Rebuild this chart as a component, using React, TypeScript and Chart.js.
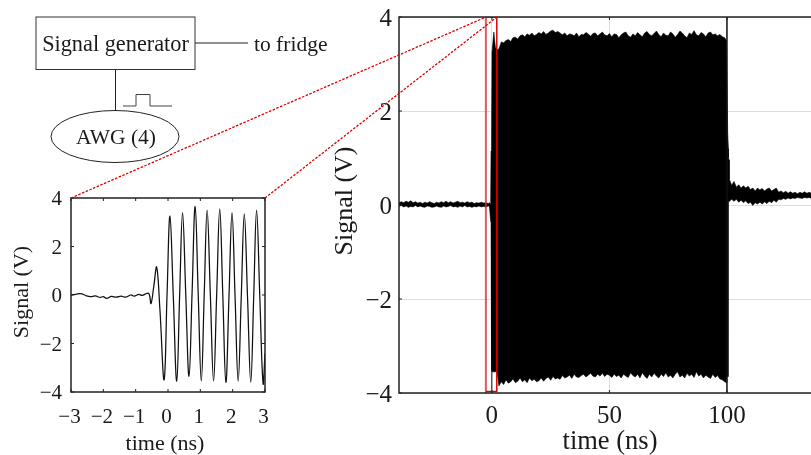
import React, { useEffect, useRef } from "react";
import { Chart, registerables } from "chart.js";

Chart.register(...registerables);

const FONT = '"Liberation Serif", "Times New Roman", serif';
const INK = "#1a1a1a";

// ---------- main panel data ----------
const mainXTicks = [0, 50, 100];
const mainYTicks = [-4, -2, 0, 2, 4];
const xTitle = "time (ns)";
const yTitle = "Signal (V)";

const preTime = [-39.5,-38.5,-37.5,-36.5,-35.5,-34.5,-33.5,-32.5,-31.5,-30.5,-29.5,-28.5,-27.5,-26.5,-25.5,-24.5,-23.5,-22.5,-21.5,-20.5,-19.5,-18.5,-17.5,-16.5,-15.5,-14.5,-13.5,-12.5,-11.5,-10.5,-9.5,-8.5,-7.5,-6.5,-5.5,-4.5,-3.5,-2.5,-1.5,-1,-0.52,-0.35,-0.12,0.06,0.84,1.5,2.2];
const preTop = [0.05,0.07,0.05,0.08,0.06,0.09,0.05,0.07,0.04,0.06,0.03,0.06,0.04,0.07,0.05,0.03,0.06,0.04,0.07,0.05,0.08,0.05,0.07,0.04,0.06,0.08,0.05,0.06,0.04,0.07,0.05,0.06,0.03,0.05,0.04,0.06,0.04,0.05,0.03,0.05,0.0,1.15,1.4,3.25,3.68,3.35,3.3];
const preBot = [-0.03,-0.01,-0.04,-0.02,-0.05,-0.03,-0.04,-0.01,-0.04,-0.02,-0.04,-0.05,-0.02,-0.03,-0.05,-0.04,-0.02,-0.04,-0.05,-0.02,-0.04,-0.03,-0.01,-0.04,-0.03,-0.05,-0.02,-0.04,-0.01,-0.04,-0.03,-0.05,-0.03,-0.04,-0.02,-0.04,-0.03,-0.04,-0.02,-0.04,-0.35,-0.35,-3.5,-3.55,-3.55,-3.55,-3.55];

const pulseTime = [3,4,5,6,7,8,9,10,11,12,13,14,15,16,17,18,19,20,21,22,23,24,25,26,27,28,29,30,31,32,33,34,35,36,37,38,39,40,41,42,43,44,45,46,47,48,49,50,51,52,53,54,55,56,57,58,59,60,61,62,63,64,65,66,67,68,69,70,71,72,73,74,75,76,77,78,79,80,81,82,83,84,85,86,87,88,89,90,91,92,93,94,95,96,97,98,99,99.8];
const pulseTop = [3.32,3.47,3.45,3.5,3.52,3.48,3.56,3.57,3.53,3.6,3.62,3.58,3.64,3.61,3.66,3.6,3.63,3.67,3.64,3.69,3.63,3.66,3.7,3.72,3.67,3.69,3.66,3.62,3.66,3.6,3.64,3.63,3.6,3.66,3.58,3.63,3.62,3.67,3.64,3.59,3.65,3.66,3.6,3.64,3.68,3.62,3.6,3.65,3.58,3.64,3.63,3.56,3.62,3.66,3.68,3.6,3.57,3.64,3.6,3.67,3.62,3.58,3.66,3.69,3.63,3.6,3.65,3.7,3.63,3.58,3.66,3.61,3.6,3.68,3.64,3.57,3.63,3.7,3.66,3.6,3.56,3.66,3.63,3.71,3.62,3.6,3.67,3.64,3.58,3.66,3.68,3.62,3.64,3.6,3.63,3.58,3.56,3.5];
const pulseBot = [-3.85,-3.76,-3.82,-3.72,-3.79,-3.76,-3.7,-3.78,-3.75,-3.68,-3.76,-3.72,-3.78,-3.68,-3.74,-3.71,-3.76,-3.74,-3.68,-3.75,-3.69,-3.66,-3.73,-3.65,-3.7,-3.68,-3.71,-3.63,-3.68,-3.66,-3.62,-3.69,-3.6,-3.66,-3.67,-3.63,-3.6,-3.66,-3.62,-3.58,-3.64,-3.66,-3.6,-3.64,-3.58,-3.65,-3.6,-3.62,-3.67,-3.6,-3.65,-3.62,-3.68,-3.6,-3.64,-3.67,-3.57,-3.63,-3.66,-3.6,-3.68,-3.57,-3.64,-3.69,-3.6,-3.66,-3.58,-3.64,-3.68,-3.6,-3.65,-3.57,-3.66,-3.62,-3.68,-3.6,-3.55,-3.66,-3.62,-3.68,-3.58,-3.64,-3.6,-3.67,-3.55,-3.64,-3.6,-3.68,-3.62,-3.66,-3.69,-3.6,-3.67,-3.63,-3.7,-3.72,-3.76,-3.78];

const postTime = [100,100.3,100.6,100.65,100.9,101,102,103,104,105,106,107,108,109,110,111,112,113,114,115,116,117,118,119,120,121,122,123,124,125,126,127,128,129,130,131,132,133,134,135,136,137,138,139,140];
const postTop = [3.5,1.55,1.2,1.0,0.96,0.55,0.42,0.5,0.38,0.43,0.36,0.41,0.36,0.4,0.33,0.36,0.3,0.36,0.32,0.35,0.3,0.34,0.36,0.3,0.33,0.36,0.27,0.3,0.26,0.29,0.25,0.28,0.25,0.27,0.24,0.27,0.25,0.28,0.25,0.27,0.25,0.27,0.25,0.26,0.25];
const postBot = [-3.65,-3.65,-3.65,0.05,0.1,0.08,0.12,0.08,0.12,0.06,0.1,0.05,0.09,0.03,0.06,-0.01,0.05,0.02,0.06,0.02,0.07,0.03,0.08,0.05,0.1,0.06,0.12,0.11,0.14,0.12,0.15,0.13,0.15,0.14,0.16,0.15,0.14,0.16,0.15,0.16,0.14,0.16,0.15,0.16,0.15];

const markTimes = [100, 100];
const markVolts = [-4, 4];
const spikeTimes = [0, 0];
const spikeVolts = [-4, -3.3];

const zoomBoxLeftT = [-2.55, -2.55];
const zoomBoxLeftV = [-4, 4];
const zoomBoxT = [-2.55, 2.1, 2.1, -2.55];
const zoomBoxV = [4, 4, -3.97, -3.97];

// ---------- inset data ----------
const insetXTicks = [-3, -2, -1, 0, 1, 2, 3];
const insetYTicks = [-4, -2, 0, 2, 4];
const insetTime = [-3,-2.85,-2.7,-2.55,-2.4,-2.25,-2.1,-2,-1.9,-1.75,-1.6,-1.45,-1.3,-1.15,-1.05,-0.9,-0.8,-0.65,-0.58,-0.525,-0.44,-0.35,-0.25,-0.12,-0.03,0.06,0.165,0.27,0.36,0.45,0.55,0.65,0.745,0.84,0.935,1.03,1.12,1.21,1.31,1.41,1.505,1.6,1.695,1.79,1.885,1.98,2.075,2.17,2.265,2.36,2.46,2.56,2.65,2.74,2.84,2.94,3];
const insetVolt = [0,0.03,0.06,-0.02,-0.07,-0.04,-0.1,-0.07,-0.14,-0.06,-0.09,-0.05,-0.09,0,-0.05,0.03,-0.02,0.07,0.03,-0.35,0.35,1.15,-0.6,-3.5,0,3.25,-0.1,-3.55,0,3.4,0,-3.35,0.1,3.65,0,-3.55,0,3.5,0,-3.55,0,3.55,0,-3.6,-0.1,3.4,-0.1,-3.55,-0.1,3.35,-0.1,-3.6,-0.1,3.5,-0.1,-3.65,-2.4];

const label = (v: number) => (v < 0 ? "\u2212" + Math.abs(v) : String(v));
const pts = (t: number[], v: number[]) => t.map((x, i) => ({ x, y: v[i] }));

const frame = (tick: number) => ({
  id: "frame",
  afterDatasetsDraw(c: any) {
    const { ctx, chartArea: a, scales } = c;
    ctx.save();
    ctx.strokeStyle = "#222";
    ctx.lineWidth = 1.5;
    ctx.strokeRect(a.left, a.top, a.right - a.left, a.bottom - a.top);
    ctx.lineWidth = 1;
    ctx.beginPath();
    for (const t of scales.x.ticks) {
      const p = scales.x.getPixelForValue(t.value);
      ctx.moveTo(p, a.bottom); ctx.lineTo(p, a.bottom - tick);
      ctx.moveTo(p, a.top); ctx.lineTo(p, a.top + tick);
    }
    for (const t of scales.y.ticks) {
      const p = scales.y.getPixelForValue(t.value);
      ctx.moveTo(a.left, p); ctx.lineTo(a.left + tick, p);
      ctx.moveTo(a.right, p); ctx.lineTo(a.right - tick, p);
    }
    ctx.stroke();
    ctx.restore();
  },
});

function axis(o: any) {
  return {
    type: "linear",
    min: o.min,
    max: o.max,
    afterBuildTicks: (s: any) => { s.ticks = o.ticks.map((value: number) => ({ value })); },
    afterFit: (s: any) => {
      if (o.width) s.width = o.width;
      if (o.height) s.height = o.height;
      s.paddingTop = 0; s.paddingBottom = 0; s.paddingLeft = 0; s.paddingRight = 0;
      if ((o.shift || o.shiftX) && !s.__wrapped) {
        s.__wrapped = true;
        const draw = s.drawTitle;
        const dy = o.shift || 0;
        const dx = o.shiftX || 0;
        s.drawTitle = function () {
          this.top += dy; this.bottom += dy; this.left += dx; this.right += dx;
          draw.call(this);
          this.top -= dy; this.bottom -= dy; this.left -= dx; this.right -= dx;
        };
      }
    },
    grid: { display: !!o.grid, color: "#dedede", lineWidth: 1, drawTicks: false },
    border: { display: false },
    ticks: {
      color: INK,
      padding: o.pad,
      labelOffset: o.labelOffset || 0,
      maxRotation: 0,
      autoSkip: false,
      font: { family: FONT, size: o.tickSize },
      callback: (v: number) => label(v),
    },
    title: {
      display: true,
      text: o.title,
      color: INK,
      padding: { top: o.titlePad, bottom: o.titlePad },
      font: { family: FONT, size: o.titleSize },
    },
  };
}

const common = { pointRadius: 0, pointHoverRadius: 0, tension: 0 };
const baseOptions = {
  animation: false,
  responsive: false,
  events: [],
  plugins: { legend: { display: false }, tooltip: { enabled: false } },
};

export default function App() {
  const mainRef = useRef<HTMLCanvasElement>(null);
  const insetRef = useRef<HTMLCanvasElement>(null);

  useEffect(() => {
    const top = [...pts(preTime, preTop), ...pts(pulseTime, pulseTop), ...pts(postTime, postTop)];
    const bot = [...pts(preTime, preBot), ...pts(pulseTime, pulseBot), ...pts(postTime, postBot)];
    const main = new Chart(mainRef.current!, {
      type: "line",
      data: {
        datasets: [
          { data: pts(zoomBoxT, zoomBoxV), borderColor: "#e00000", borderWidth: 1.5, order: 0, ...common } as any,
          { data: pts(zoomBoxLeftT, zoomBoxLeftV), borderColor: "rgba(215,50,50,0.8)", borderWidth: 2, order: 0, ...common },
          { data: pts(markTimes, markVolts), borderColor: "#111", borderWidth: 1.5, order: 1, ...common },
          { data: pts(spikeTimes, spikeVolts), borderColor: "#111", borderWidth: 1, order: 1, ...common },
          { data: top, borderColor: "#000", borderWidth: 0.6, backgroundColor: "#000", fill: 5, order: 2, ...common },
          { data: bot, borderColor: "#000", borderWidth: 0.6, order: 2, ...common },
        ],
      },
      options: {
        ...baseOptions,
        layout: { padding: { left: 0, right: 4, top: 17, bottom: 0 } },
        scales: {
          x: axis({ min: -39.5, max: 140, ticks: mainXTicks, height: 62, grid: true, pad: 8, tickSize: 25, title: xTitle, titleSize: 26.5, titlePad: -3 }),
          y: axis({ min: -4, max: 4, ticks: mainYTicks, width: 69, grid: true, pad: 7, labelOffset: 2, tickSize: 25, title: yTitle, titleSize: 26, titlePad: 0, shift: -4 }),
        },
      } as any,
      plugins: [frame(3)],
    });

    const inset = new Chart(insetRef.current!, {
      type: "line",
      data: {
        datasets: [
          { data: pts(insetTime, insetVolt), borderColor: "#111", borderWidth: 1.25, ...common, tension: 0.4 },
        ],
      },
      options: {
        ...baseOptions,
        layout: { padding: { left: 0, right: 15, top: 18, bottom: 0 } },
        scales: {
          x: axis({ min: -3, max: 3, ticks: insetXTicks, height: 63, pad: 13, labelOffset: -1.5, tickSize: 21, title: xTitle, titleSize: 22, titlePad: -2, shiftX: -3 }),
          y: axis({ min: -4, max: 4, ticks: insetYTicks, width: 71, pad: 9, labelOffset: 1.5, tickSize: 21, title: yTitle, titleSize: 22, titlePad: 9, shift: -3 }),
        },
      } as any,
      plugins: [frame(3)],
    });

    return () => {
      main.destroy();
      inset.destroy();
    };
  }, []);

  const diagramText = { fontFamily: FONT, fontSize: 21.5, fill: INK };
  return (
    <div style={{ position: "fixed", left: 0, top: 0, width: 811, height: 455, overflow: "hidden", background: "#fff" }}>
      <canvas ref={mainRef} width={495} height={455} style={{ position: "absolute", left: 330, top: 0, width: 495, height: 455 }} />
      <canvas ref={insetRef} width={280} height={275} style={{ position: "absolute", left: 0, top: 180, width: 280, height: 275 }} />
      <svg width={811} height={455} style={{ position: "absolute", left: 0, top: 0, pointerEvents: "none" }}>
        <rect x={36} y={17} width={159} height={52.5} fill="none" stroke="#333" strokeWidth={1} />
        <text x={115.5} y={51} textAnchor="middle" {...diagramText} fontSize={22.3}>Signal generator</text>
        <line x1={195} y1={43} x2={248} y2={43} stroke="#222" strokeWidth={1} />
        <text x={254} y={51} {...diagramText}>to fridge</text>
        <line x1={115.5} y1={70} x2={115.5} y2={110} stroke="#222" strokeWidth={1} />
        <polyline points="123,106 136,106 136,94.5 150,94.5 150,106 172,106" fill="none" stroke="#444" strokeWidth={1} />
        <ellipse cx={115} cy={136.5} rx={64} ry={26} fill="none" stroke="#222" strokeWidth={1} />
        <text x={116} y={144} textAnchor="middle" {...diagramText}>AWG (4)</text>
        <line x1={71} y1={198} x2={486} y2={17} stroke="#e00000" strokeWidth={1.3} strokeDasharray="2.5 1.5" />
        <line x1={265} y1={198} x2={497} y2={17} stroke="#e00000" strokeWidth={1.3} strokeDasharray="2.5 1.5" />
      </svg>
    </div>
  );
}
